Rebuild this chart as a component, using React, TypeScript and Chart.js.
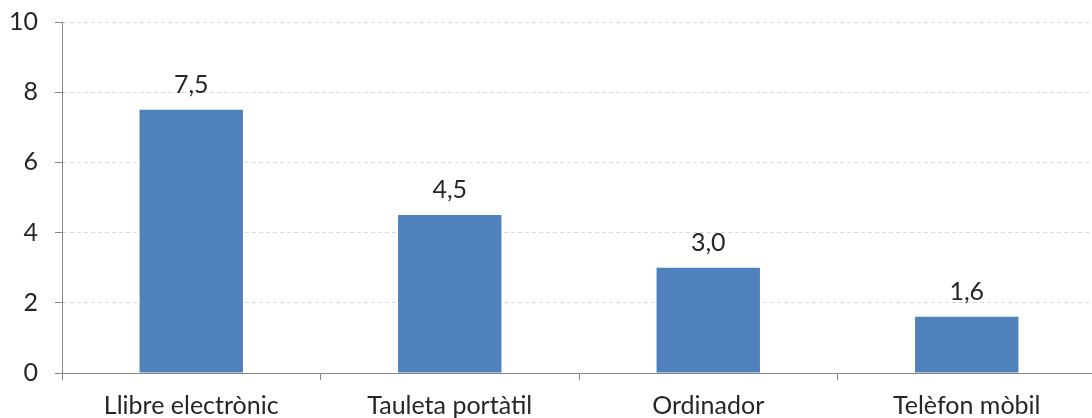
import React, { useEffect, useRef } from "react";
import { Chart, registerables } from "chart.js";

Chart.register(...registerables);

const categories = ["Llibre electrònic", "Tauleta portàtil", "Ordinador", "Telèfon mòbil"];
const values = [7.5, 4.5, 3.0, 1.6];
const yTicks = [0, 2, 4, 6, 8, 10];

const FONT = "Lato, 'Open Sans', sans-serif";
const TEXT = "#262626";

const dataLabels = {
  id: "dataLabels",
  afterDatasetsDraw(chart: any) {
    const ctx = chart.ctx;
    const meta = chart.getDatasetMeta(0);
    ctx.save();
    ctx.fillStyle = TEXT;
    ctx.font = `25px ${FONT}`;
    ctx.textAlign = "center";
    ctx.textBaseline = "alphabetic";
    meta.data.forEach((bar: any, i: number) => {
      const v = values[i];
      ctx.fillText(v.toFixed(1).replace(".", ","), bar.x, bar.y - 17);
    });
    ctx.restore();
  },
};

export default function App() {
  const ref = useRef<HTMLCanvasElement | null>(null);
  useEffect(() => {
    if (!ref.current) return;
    const chart = new Chart(ref.current, {
      type: "bar",
      data: {
        labels: categories,
        datasets: [
          {
            data: values,
            backgroundColor: "#4F81BD",
            borderWidth: 0,
            categoryPercentage: 1,
            barPercentage: 0.4,
          },
        ],
      },
      options: {
        animation: false,
        responsive: false,
        maintainAspectRatio: false,
        layout: { padding: { top: 22, right: 0, left: 0, bottom: 0 } },
        plugins: { legend: { display: false }, tooltip: { enabled: false } },
        scales: {
          x: {
            grid: {
              drawOnChartArea: false,
              drawTicks: true,
              tickLength: 7,
              tickColor: "#868686",
              offset: true,
            },
            border: { color: "#868686", width: 1 },
            ticks: {
              color: TEXT,
              font: { family: FONT, size: 25 },
              padding: 11,
              maxRotation: 0,
              autoSkip: false,
            },
            afterFit(scale: any) {
              scale.height = 45;
            },
          },
          y: {
            min: 0,
            max: 10,
            afterBuildTicks(scale: any) {
              scale.ticks = yTicks.map((v) => ({ value: v }));
            },
            grid: {
              color: "#D9D9D9",
              drawTicks: true,
              tickLength: 7,
              tickColor: "#868686",
            },
            border: { color: "#868686", width: 1, dash: [4, 3] },
            ticks: {
              color: TEXT,
              font: { family: FONT, size: 25 },
              padding: 17,
            },
            afterFit(scale: any) {
              scale.width = 62;
              scale.paddingTop = 0;
              scale.paddingBottom = 0;
            },
          },
        },
      },
      plugins: [dataLabels],
    });
    return () => chart.destroy();
  }, []);
  return (
    <div style={{ position: "absolute", left: 0, top: 0, width: 1092, height: 418, overflow: "hidden", background: "#fff" }}>
      <canvas ref={ref} width={1096} height={418} style={{ display: "block", width: 1096, height: 418 }} />
    </div>
  );
}
